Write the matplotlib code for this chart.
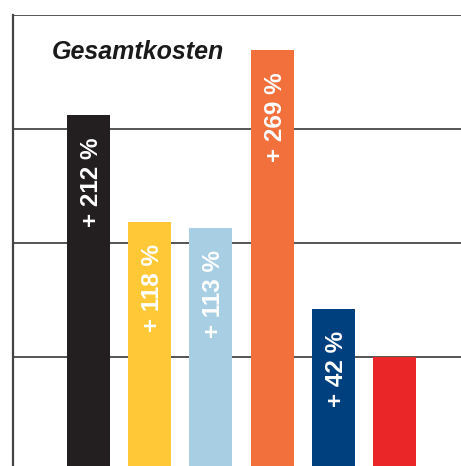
import matplotlib
matplotlib.use("Agg")
import matplotlib.pyplot as plt
from matplotlib.transforms import offset_copy

# Daten: relative Gesamtkosten (Basis = 1.0)
werte = [3.12, 2.18, 2.13, 3.69, 1.42, 1.00]
beschriftung = ["+ 212 %", "+ 118 %", "+ 113 %", "+ 269 %", "+ 42 %", ""]
farben = ["#231f20", "#fec837", "#a8cee3", "#f1703c", "#00407f", "#eb2629"]
titel = "Gesamtkosten"

plt.rcParams['font.family'] = ['Liberation Sans', 'DejaVu Sans']

fig = plt.figure(figsize=(4.61, 4.66), dpi=100)
ax = fig.add_axes([13 / 461, 0, 448 / 461, 451 / 466])

x = list(range(len(werte)))
ax.bar(x, werte, width=0.70, color=farben, zorder=3)

ax.set_xlim(-1.234, 6.087)
ax.set_ylim(0.044, 4)

# Gitterlinien
for y in [1, 2, 3, 4]:
    ax.axhline(y, color="#555555", lw=1.4, zorder=1)

for s in ["right", "bottom", "top"]:
    ax.spines[s].set_visible(False)
ax.spines["left"].set_color("#444444")
ax.spines["left"].set_linewidth(1.6)
ax.set_xticks([])
ax.set_yticks([])

# Prozentangaben in den Balken
for xi, wi, txt in zip(x, werte, beschriftung):
    if not txt:
        continue
    tr = offset_copy(ax.transData, fig=fig, x=3, y=-22, units="dots")
    ax.text(xi, wi, txt, transform=tr, rotation=90, ha="center", va="top",
            color="white", fontsize=17.5, fontweight="bold", zorder=4)

fig.text(52 / 461, 1 - 52 / 466, titel, ha="left", va="center",
         fontsize=18, fontweight="bold", fontstyle="italic", color="#1a1a1a")

fig.savefig("out.png", dpi=100)
